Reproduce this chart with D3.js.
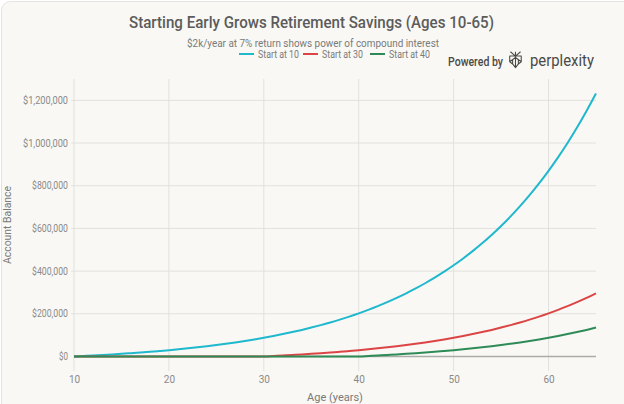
<!DOCTYPE html>
<html>
<head>
<meta charset="utf-8">
<script src="https://cdn.jsdelivr.net/npm/d3@7"></script>
<style>
html,body{margin:0;padding:0;background:#ffffff;}
svg{display:block;}
text{font-family:Roboto,"Liberation Sans",Arial,sans-serif;}
</style>
</head>
<body>
<svg id="chart" width="624" height="404"></svg>
<script>
// ---- data ----
const ages = d3.range(10, 66);
const startAt10 = [0,2140,4430,6880,9501,12307,15308,18519,21956,25633,29567,33777,38281,43101,48258,53776,59680,65998,72758,79991,87730,96011,104872,114353,124498,135353,146967,159395,172693,186921,202146,218436,235866,254517,274473,295827,318674,343122,369280,397267,427210,459256,493544,530234,569493,611504,656448,704540,755997,811057,869972,933007,1000458,1072632,1149857,1232487];
const startAt30 = [0,0,0,0,0,0,0,0,0,0,0,0,0,0,0,0,0,0,0,0,0,2140,4430,6880,9501,12307,15308,18519,21956,25633,29567,33777,38281,43101,48258,53776,59680,65998,72758,79991,87730,96011,104872,114353,124498,135353,146967,159395,172693,186921,202146,218436,235866,254517,274473,295827];
const startAt40 = [0,0,0,0,0,0,0,0,0,0,0,0,0,0,0,0,0,0,0,0,0,0,0,0,0,0,0,0,0,0,0,2140,4430,6880,9501,12307,15308,18519,21956,25633,29567,33777,38281,43101,48258,53776,59680,65998,72758,79991,87730,96011,104872,114353,124498,135353];
const seriesNames = ["Start at 10","Start at 30","Start at 40"];
const seriesColors = ["#1FB8CD","#DB4545","#2E8B57"];
const xTicks = [10,20,30,40,50,60];
const yTicks = [0,200000,400000,600000,800000,1000000,1200000];

const series = [startAt10, startAt30, startAt40].map((vals,i)=>({
  name: seriesNames[i], color: seriesColors[i],
  points: ages.map((a,j)=>({age:a, v:vals[j]}))
}));

const svg = d3.select("#chart");
const W = 624, H = 404;
const FONT = "Roboto,'Liberation Sans',Arial,sans-serif";

// card background
svg.append("rect").attr("width",W).attr("height",H).attr("fill","#ffffff");
svg.append("rect").attr("x",1.5).attr("y",1.5).attr("width",W+20).attr("height",H+20)
  .attr("rx",9).attr("fill","#F9F8F5").attr("stroke","#E4E3DF").attr("stroke-width",1);

const x = d3.scaleLinear().domain([10,65]).range([74,596]);
const y = d3.scaleLinear().domain([-68000,1300000]).range([371,79]);

// grid
const g = svg.append("g");
g.selectAll(".vg").data(xTicks).join("line")
  .attr("x1",d=>x(d)).attr("x2",d=>x(d)).attr("y1",79).attr("y2",371)
  .attr("stroke","#E2E1DD").attr("stroke-width",1);
g.selectAll(".hg").data(yTicks.filter(d=>d>0)).join("line")
  .attr("x1",71).attr("x2",596).attr("y1",d=>y(d)).attr("y2",d=>y(d))
  .attr("stroke","#E2E1DD").attr("stroke-width",1);

// axes labels via d3 axes
const yAxis = d3.axisLeft(y).tickValues(yTicks).tickSize(0).tickPadding(0)
  .tickFormat(d=>"$"+d3.format(",")(d));
const ya = svg.append("g").attr("transform","translate(68,0)").call(yAxis);
ya.select(".domain").remove();
ya.selectAll("text").attr("fill","#8a8a88").attr("font-size",10).attr("font-family",FONT)
  .attr("textLength",function(){ const t=d3.select(this).text(); return t.length*4.5; })
  .attr("lengthAdjust","spacingAndGlyphs");

const xAxis = d3.axisBottom(x).tickValues(xTicks).tickSize(0).tickPadding(0).tickFormat(d3.format("d"));
const xa = svg.append("g").attr("transform","translate(0,376)").call(xAxis);
xa.select(".domain").remove();
xa.selectAll("text").attr("fill","#8a8a88").attr("font-size",10).attr("font-family",FONT);

// zero line
svg.append("line").attr("x1",74).attr("x2",596).attr("y1",y(0)).attr("y2",y(0))
  .attr("stroke","#ABABA8").attr("stroke-width",1.6);

// lines
const line = d3.line().x(d=>x(d.age)).y(d=>y(d.v)).curve(d3.curveMonotoneX);
svg.append("g").selectAll("path").data(series).join("path")
  .attr("d",d=>line(d.points)).attr("fill","none")
  .attr("stroke",d=>d.color).attr("stroke-width",2);

// titles
svg.append("text").attr("x",129).attr("y",28)
  .attr("font-size",17).attr("fill","#5c5c5a").attr("font-weight",500)
  .attr("textLength",365).attr("lengthAdjust","spacingAndGlyphs")
  .text("Starting Early Grows Retirement Savings (Ages 10-65)");
svg.append("text").attr("x",187).attr("y",47)
  .attr("font-size",10.5).attr("fill","#7a7a78")
  .attr("textLength",252).attr("lengthAdjust","spacingAndGlyphs")
  .text("$2k/year at 7% return shows power of compound interest");

// legend
const legX = [239,303,370];
const leg = svg.append("g");
series.forEach((s,i)=>{
  leg.append("line").attr("x1",legX[i]).attr("x2",legX[i]+15).attr("y1",54).attr("y2",54)
    .attr("stroke",s.color).attr("stroke-width",2);
  leg.append("text").attr("x",legX[i]+19).attr("y",57.5).attr("font-size",10)
    .attr("fill","#7a7a78").attr("textLength",41).attr("lengthAdjust","spacingAndGlyphs").text(s.name);
});
// axis titles
svg.append("text").attr("x",335).attr("y",401).attr("text-anchor","middle")
  .attr("font-size",11).attr("fill","#7a7a78").text("Age (years)");
svg.append("text").attr("transform","translate(11,225) rotate(-90)").attr("text-anchor","middle")
  .attr("font-size",11).attr("fill","#7a7a78").attr("textLength",78).attr("lengthAdjust","spacingAndGlyphs")
  .text("Account Balance");

// Powered by perplexity
svg.append("text").attr("x",448).attr("y",66).attr("font-size",12).attr("font-weight",500)
  .attr("fill","#4a4a48").attr("textLength",55).attr("lengthAdjust","spacingAndGlyphs").text("Powered by");
const logo = svg.append("g").attr("transform","translate(509,51) scale(0.72)").attr("fill","none")
  .attr("stroke","#4a4a48").attr("stroke-width",1.5).attr("stroke-linejoin","round");
logo.append("path").attr("d","M2,1 L9,7 L9,1 M16,1 L9,7 M1,7 L17,7 L17,15 L9,9 L1,15 Z M9,7 L9,23 M1,15 L5,18 L5,12 M17,15 L13,18 L13,12 M5,18 L9,23 L13,18");
svg.append("text").attr("x",530).attr("y",66).attr("font-size",16)
  .attr("fill","#4a4a48").attr("textLength",64).attr("lengthAdjust","spacingAndGlyphs").text("perplexity");
</script>
</body>
</html>
